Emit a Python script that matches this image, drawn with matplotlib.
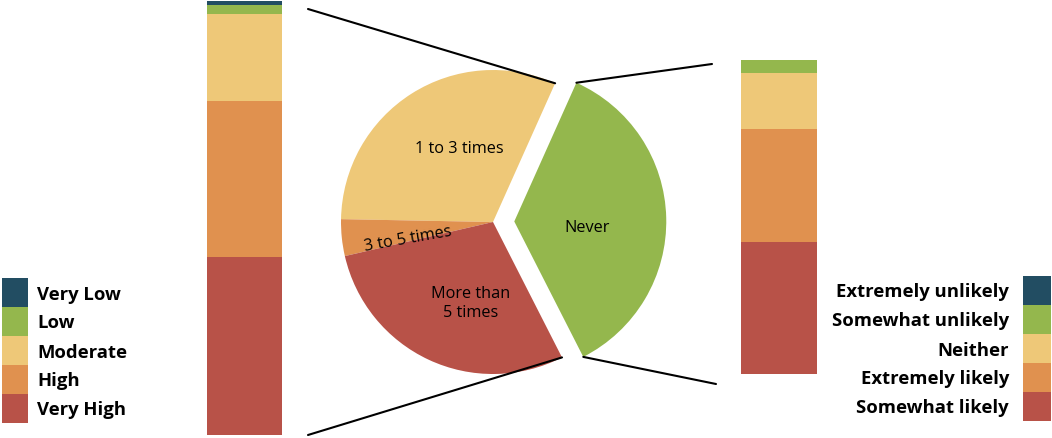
import matplotlib.pyplot as plt
from matplotlib.patches import Rectangle, ConnectionPatch
import numpy as np

# kleuren
donkerblauw = "#224d62"
groen = "#94b74d"
geel = "#eec878"
oranje = "#e0914f"
rood = "#b85248"

# linker staaf (van onder naar boven)
risico_labels = ["Very High", "High", "Moderate", "Low", "Very Low"]
risico_waarden = [41, 36, 20, 2, 1]
risico_kleuren = [rood, oranje, geel, groen, donkerblauw]

# taart
keer_labels = ["Never", "1 to 3 times", "3 to 5 times", "More than\n5 times"]
keer_waarden = [35.8, 31.4, 3.9, 28.9]
keer_kleuren = [groen, geel, oranje, rood]

# rechter staaf (van onder naar boven)
kans_labels = ["Somewhat likely", "Extremely likely", "Neither",
               "Somewhat unlikely", "Extremely unlikely"]
kans_waarden = [42, 36, 18, 4, 0]
kans_kleuren = [rood, oranje, geel, groen, donkerblauw]

B, H = 1052, 439


def fr(x, y):
    """pixel (vanaf linksboven) naar figuurfractie"""
    return x / B, 1 - y / H


def box(x0, y0, x1, y1):
    return [x0 / B, 1 - y1 / H, (x1 - x0) / B, (y1 - y0) / H]


plt.rcParams['font.family'] = ['Open Sans', 'DejaVu Sans']
fig = plt.figure(figsize=(B / 100, H / 100), dpi=100)


def staaf(ax, waarden, kleuren):
    onder = 0
    for w, k in zip(waarden, kleuren):
        ax.bar(0, w, bottom=onder, width=1, color=k, linewidth=0)
        onder += w
    ax.set_xlim(-0.5, 0.5)
    ax.set_ylim(0, onder)
    ax.axis("off")


ax_l = fig.add_axes(box(207, 2, 282, 436))
staaf(ax_l, risico_waarden, risico_kleuren)

ax_r = fig.add_axes(box(741, 61, 817, 375))
staaf(ax_r, kans_waarden, kans_kleuren)

# taart, straal 152 px rond (493, 223)
straal = 152
half = 200
ax_p = fig.add_axes(box(493 - half, 223 - half, 493 + half, 223 + half))
wedges, _ = ax_p.pie(keer_waarden, colors=keer_kleuren, startangle=-63,
                     explode=[0.14, 0, 0, 0], radius=1,
                     wedgeprops=dict(linewidth=0))
L = half / straal
ax_p.set_xlim(-L, L)
ax_p.set_ylim(-L, L)
ax_p.axis("off")

fs_p = 11.7
ax_p.text(-0.22, 0.49, keer_labels[1], ha="center", va="center", fontsize=fs_p)
ax_p.text(-0.56, -0.11, keer_labels[2], ha="center", va="center",
          fontsize=fs_p, rotation=10)
ax_p.text(-0.15, -0.53, keer_labels[3], ha="center", va="center",
          fontsize=fs_p, linespacing=1.25)
ax_p.text(0.62, -0.03, keer_labels[0], ha="center", va="center", fontsize=fs_p)


def rand(w, hoek):
    cx, cy = w.center
    t = np.deg2rad(hoek)
    return cx + w.r * np.cos(t), cy + w.r * np.sin(t)


lijnen = [
    (rand(wedges[1], wedges[1].theta1), fr(308, 10)),
    (rand(wedges[3], wedges[3].theta2), fr(308, 436)),
    (rand(wedges[0], wedges[0].theta2), fr(712, 65)),
    (rand(wedges[0], wedges[0].theta1), fr(716, 385)),
]
for a, b in lijnen:
    fig.add_artist(ConnectionPatch(a, b, coordsA=ax_p.transData,
                                   coordsB=fig.transFigure, color="black",
                                   linewidth=1.5))

# legenda's: blokjes van 26x29 px, op elkaar gestapeld
fs = 13.3
rij = 29
for i, (lab, k) in enumerate(zip(risico_labels[::-1], risico_kleuren[::-1])):
    y0 = 279 + i * rij
    fig.add_artist(Rectangle(fr(2, y0 + rij), 26 / B, rij / H, color=k,
                             linewidth=0, transform=fig.transFigure))
    fig.text(*fr(37, y0 + rij / 2 + 1), lab, ha="left", va="center",
             fontsize=fs, fontweight="bold")

for i, (lab, k) in enumerate(zip(kans_labels[::-1], kans_kleuren[::-1])):
    y0 = 277 + i * rij
    fig.add_artist(Rectangle(fr(1023, y0 + rij), 28 / B, rij / H, color=k,
                             linewidth=0, transform=fig.transFigure))
    fig.text(*fr(1009, y0 + rij / 2 + 1), lab, ha="right", va="center",
             fontsize=fs, fontweight="bold")

fig.savefig("out.png", dpi=100)
